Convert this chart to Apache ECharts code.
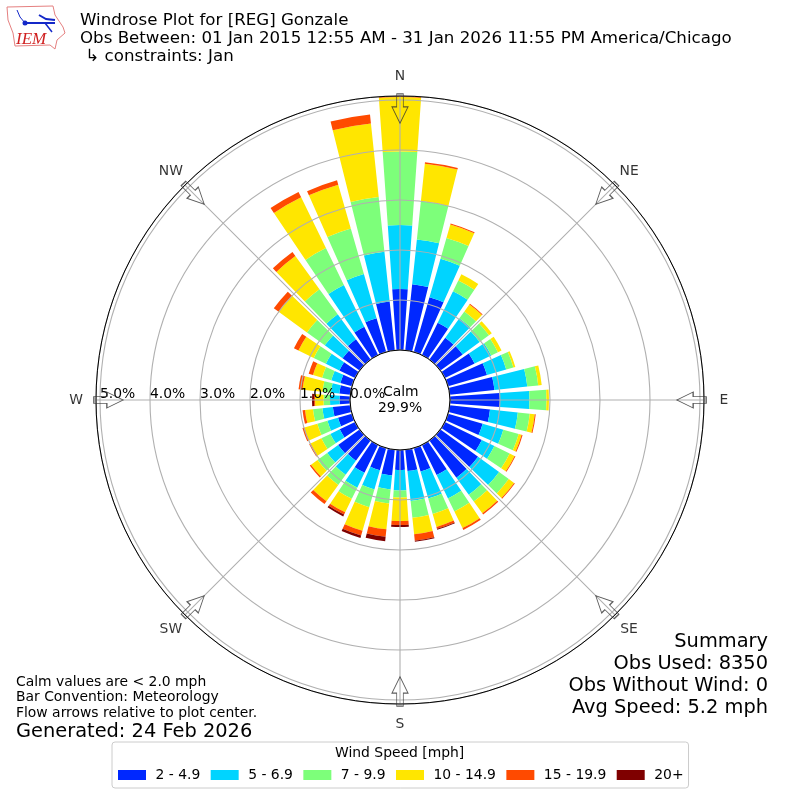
<!DOCTYPE html>
<html><head><meta charset="utf-8">
<style>html,body{margin:0;padding:0;background:#fff}#c{width:800px;height:800px}</style>
<script src="https://cdn.jsdelivr.net/npm/echarts@6/dist/echarts.min.js"></script>
</head><body><div id="c"></div>
<script>
// bearings in degrees; NW quadrant written as negatives because the angle axis starts at W (-90)
const directions = [0,10,20,30,40,50,60,70,80,90,100,110,120,130,140,150,160,170,180,190,200,210,220,230,240,250,260,270,-80,-70,-60,-50,-40,-30,-20,-10];
const speedBins = ['2 - 4.9','5 - 6.9','7 - 9.9','10 - 14.9','15 - 19.9','20+'];
const binColors = ['#0028ff','#00d4ff','#7dff7a','#ffe600','#ff4a00','#7f0000'];
const bin1 = [1.22,1.33,1.14,.72,.54,.55,.66,.81,.90,1.00,.81,.72,.82,.93,.92,.67,.49,.43,.40,.52,.46,.62,.50,.53,.34,.29,.35,.21,.22,.24,.35,.42,.50,.63,.70,.98];
const bin2 = [1.28,.90,.80,.70,.48,.42,.37,.40,.66,.59,.56,.43,.28,.52,.42,.52,.56,.60,.41,.28,.40,.33,.35,.27,.21,.22,.21,.19,.17,.19,.30,.44,.62,.93,.92,1.00];
const bin3 = [1.47,.77,.43,.24,.17,.23,.15,.15,.22,.34,.24,.32,.34,.24,.17,.29,.32,.34,.14,.28,.37,.25,.25,.24,.20,.21,.19,.13,.17,.19,.27,.44,.62,.82,.95,1.10];
const bin4 = [1.09,.75,.28,.14,.17,.07,.08,.04,.07,.05,.10,.06,.11,.13,.29,.37,.27,.33,.47,.52,.49,.30,.40,.16,.24,.27,.16,.17,.40,.19,.34,.70,.82,1.13,.91,1.48];
const bin5 = [.02,.03,.02,0,.02,0,0,0,0,0,.02,.02,.02,.02,.03,.04,.04,.13,.08,.15,.10,.05,.07,.03,.03,.04,.05,.02,.08,.09,.10,.12,.10,.12,.09,.18];
const bin6 = [0,0,0,0,0,0,0,0,0,0,0,0,0,0,0,0,.02,.02,.04,.09,.05,.04,0,0,0,0,0,.04,0,0,0,0,0,0,0,0];
const binValues = [bin1,bin2,bin3,bin4,bin5,bin6];
const compassAngles = [0,45,90,135,180,225,270,-45];
const compassNames = ['N','NE','E','SE','S','SW','W','NW'];
const summaryLines = ['Summary','Obs Used: 8350','Obs Without Wind: 0','Avg Speed: 5.2 mph'];
const arrowRadius = 4.83;
const labelRadius = 5.48;
const FONT = 'DejaVu Sans';

const chart = echarts.init(document.getElementById('c'), null, {renderer:'canvas'});
const series = binValues.map((vals,i)=>({
  type:'bar', name:speedBins[i], coordinateSystem:'polar', stack:'wind', barWidth:'80%',
  itemStyle:{color:binColors[i]}, silent:true, z:2, animation:false,
  data: vals.map((v,k)=>[v,directions[k]])
}));
series.push({
  type:'scatter', name:'arrows', coordinateSystem:'polar', silent:true, z:6, animation:false, clip:false,
  symbol:'path://M4.7 0L11.3 0L11.3 13L16 13L8 29.3L0 13L4.7 13Z', symbolSize:[16,29.3],
  symbolRotate:(val)=>-val[1],
  itemStyle:{color:'rgba(255,255,255,0)',borderColor:'#333',borderWidth:1},
  data: compassAngles.map(a=>[arrowRadius,a])
});
series.push({
  type:'scatter', name:'compass', coordinateSystem:'polar', silent:true, z:6, animation:false, clip:false,
  symbol:'circle', symbolSize:1, itemStyle:{color:'rgba(255,255,255,0)'},
  label:{show:true,position:'inside',align:'center',verticalAlign:'middle',fontFamily:FONT,fontSize:13.9,color:'#000',
    formatter:p=>compassNames[p.dataIndex]},
  data: compassAngles.map(a=>[labelRadius,a])
});
const T = (text,left,top,size,extra)=>({text,left,top,textStyle:Object.assign({fontFamily:FONT,fontSize:size,fontWeight:'normal',color:'#000'},extra||{}),padding:0,itemGap:0});
const summaryTitles = summaryLines.map((s,i)=>({text:s,right:32,top:632+i*22,padding:0,
  textStyle:{fontFamily:FONT,fontSize:19.4,fontWeight:'normal',color:'#000'}}));
chart.setOption({
  animation:false, backgroundColor:'#fff',
  title:[
    T('Windrose Plot for [REG] Gonzale\nObs Between: 01 Jan 2015 12:55 AM - 31 Jan 2026 11:55 PM America/Chicago\n ↳ constraints: Jan',80,12,16.67,{lineHeight:17.7}),
    T('Calm',383,385,13.9),
    T('29.9%',378,401,13.9),
    T('Calm values are < 2.0 mph\nBar Convention: Meteorology\nFlow arrows relative to plot center.',16,674,13.9,{lineHeight:15.8}),
    T('Generated: 24 Feb 2026',16,722,19.4),
    ...summaryTitles,
    T('Wind Speed [mph]',335,746,13.9)
  ],
  polar:{center:[400,400],radius:[50,304]},
  angleAxis:{
    type:'value',min:-90,max:270,interval:45,startAngle:180,clockwise:true,z:3,
    axisLine:{show:true,lineStyle:{color:'#000',width:1}},
    axisTick:{show:false},minorTick:{show:false},
    splitLine:{show:true,lineStyle:{color:'#b0b0b0',width:1.1}},
    axisLabel:{show:false}
  },
  radiusAxis:{
    type:'value',min:0,max:5.08,interval:1,z:3,
    axisLine:{show:false},axisTick:{show:false},
    splitLine:{show:true,showMinLine:false,showMaxLine:false,lineStyle:{color:'#b0b0b0',width:1.1}},
    axisLabel:{show:true,showMaxLabel:false,margin:1,align:'left',verticalAlign:'bottom',fontFamily:FONT,fontSize:13.9,color:'#000',
      formatter:v=>v>5.01?'':v.toFixed(1)+'%'}
  },
  legend:{
    data:speedBins, left:112, top:742, orient:'horizontal',
    padding:[26,5,6,6], itemWidth:28, itemHeight:10, itemGap:10.4, icon:'rect',
    borderColor:'#ccc', borderWidth:1, borderRadius:3, backgroundColor:'#fff',
    selectedMode:false,
    textStyle:{fontFamily:FONT,fontSize:13.9,color:'#000',padding:[0,0,0,4.5]}
  },
  graphic:[
    {type:'polygon',silent:true,shape:{points:[[7,7],[53,6],[55,15],[63,27],[65,33],[57,40],[55,49],[50,45],[15,46],[13,33],[8,20]]},style:{fill:'#fff',stroke:'#e58080',lineWidth:1}},
    {type:'polyline',silent:true,shape:{points:[[25,23],[55,23]]},style:{stroke:'#1428c8',lineWidth:2}},
    {type:'polyline',silent:true,shape:{points:[[17,10],[20,17],[25,23]]},style:{stroke:'#1428c8',lineWidth:1}},
    {type:'polyline',silent:true,shape:{points:[[39,15],[46,19],[55,20]]},style:{stroke:'#1428c8',lineWidth:2}},
    {type:'polyline',silent:true,shape:{points:[[45,23],[52,32]]},style:{stroke:'#1428c8',lineWidth:1.5}},
    {type:'circle',silent:true,shape:{cx:25,cy:23,r:2.5},style:{fill:'#1428c8'}},
    {type:'text',silent:true,style:{x:16,y:31,text:'IEM',fill:'#d02020',font:'italic 17px "Liberation Serif"'}}
  ],
  series
});
</script></body></html>
